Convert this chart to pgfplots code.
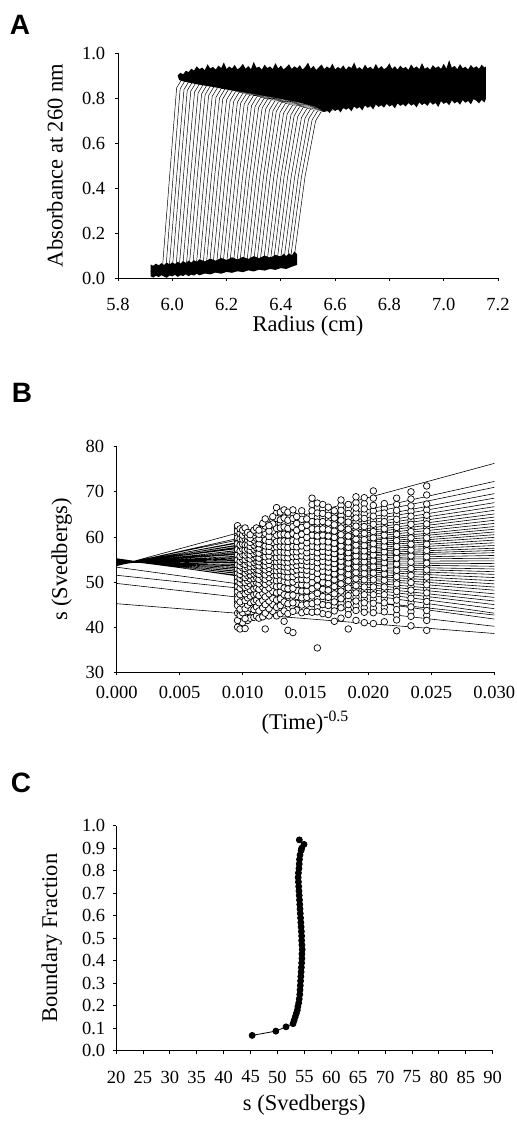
\documentclass[border=0pt]{standalone}
\usepackage{fontspec}
\setmainfont{Liberation Serif}
\newfontfamily\panelfont{Liberation Sans}
\usepackage{pgfplots}
\usepackage{pgfplotstable}
\pgfplotsset{compat=1.18}

% ---------- Panel A: scans (x y, nan rows separate scans)
\pgfplotstableread{
x y
5.92 0.03
5.964 0.050
5.990 0.45
6.016 0.845
6.036 0.885
7.15 0.86
nan nan
5.92 0.03
5.977 0.051
6.003 0.45
6.029 0.841
6.049 0.881
7.15 0.86
nan nan
5.92 0.03
5.989 0.053
6.016 0.45
6.043 0.837
6.063 0.877
7.15 0.86
nan nan
5.92 0.03
6.001 0.054
6.028 0.45
6.055 0.833
6.075 0.873
7.15 0.86
nan nan
5.92 0.03
6.014 0.055
6.041 0.45
6.068 0.830
6.088 0.870
7.15 0.86
nan nan
5.92 0.03
6.026 0.056
6.054 0.45
6.082 0.826
6.102 0.866
7.15 0.86
nan nan
5.92 0.03
6.039 0.058
6.067 0.45
6.095 0.822
6.115 0.862
7.15 0.86
nan nan
5.92 0.03
6.052 0.059
6.080 0.45
6.108 0.818
6.128 0.858
7.15 0.86
nan nan
5.92 0.03
6.063 0.060
6.092 0.45
6.121 0.815
6.141 0.855
7.15 0.86
nan nan
5.92 0.03
6.076 0.062
6.105 0.45
6.134 0.811
6.154 0.851
7.15 0.86
nan nan
5.92 0.03
6.089 0.063
6.118 0.45
6.147 0.807
6.167 0.847
7.15 0.86
nan nan
5.92 0.03
6.101 0.064
6.131 0.45
6.161 0.803
6.181 0.843
7.15 0.86
nan nan
5.92 0.03
6.114 0.065
6.144 0.45
6.174 0.800
6.194 0.840
7.15 0.86
nan nan
5.92 0.03
6.126 0.067
6.156 0.45
6.186 0.796
6.206 0.836
7.15 0.86
nan nan
5.92 0.03
6.138 0.068
6.169 0.45
6.200 0.792
6.220 0.832
7.15 0.86
nan nan
5.92 0.03
6.151 0.069
6.182 0.45
6.213 0.788
6.233 0.828
7.15 0.86
nan nan
5.92 0.03
6.164 0.071
6.195 0.45
6.226 0.785
6.246 0.825
7.15 0.86
nan nan
5.92 0.03
6.176 0.072
6.208 0.45
6.240 0.781
6.260 0.821
7.15 0.86
nan nan
5.92 0.03
6.188 0.073
6.220 0.45
6.252 0.777
6.272 0.817
7.15 0.86
nan nan
5.92 0.03
6.201 0.074
6.233 0.45
6.265 0.773
6.285 0.813
7.15 0.86
nan nan
5.92 0.03
6.213 0.076
6.246 0.45
6.279 0.770
6.299 0.810
7.15 0.86
nan nan
5.92 0.03
6.226 0.077
6.259 0.45
6.292 0.766
6.312 0.806
7.15 0.86
nan nan
5.92 0.03
6.239 0.078
6.272 0.45
6.305 0.762
6.325 0.802
7.15 0.86
nan nan
5.92 0.03
6.250 0.079
6.284 0.45
6.318 0.758
6.338 0.798
7.15 0.86
nan nan
5.92 0.03
6.263 0.081
6.297 0.45
6.331 0.755
6.351 0.795
7.15 0.86
nan nan
5.92 0.03
6.276 0.082
6.310 0.45
6.344 0.751
6.364 0.791
7.15 0.86
nan nan
5.92 0.03
6.288 0.083
6.323 0.45
6.358 0.747
6.378 0.787
7.15 0.86
nan nan
5.92 0.03
6.301 0.085
6.336 0.45
6.371 0.743
6.391 0.783
7.15 0.86
nan nan
5.92 0.03
6.313 0.086
6.348 0.45
6.383 0.740
6.403 0.780
7.15 0.86
nan nan
5.92 0.03
6.325 0.087
6.361 0.45
6.397 0.736
6.417 0.776
7.15 0.86
nan nan
5.92 0.03
6.338 0.088
6.374 0.45
6.410 0.732
6.430 0.772
7.15 0.86
nan nan
5.92 0.03
6.351 0.090
6.387 0.45
6.423 0.728
6.443 0.768
7.15 0.86
nan nan
5.92 0.03
6.363 0.091
6.400 0.45
6.437 0.725
6.457 0.765
7.15 0.86
nan nan
5.92 0.03
6.375 0.092
6.412 0.45
6.449 0.721
6.469 0.761
7.15 0.86
nan nan
5.92 0.03
6.388 0.094
6.425 0.45
6.462 0.717
6.482 0.757
7.15 0.86
nan nan
5.92 0.03
6.400 0.095
6.438 0.45
6.476 0.713
6.496 0.753
7.15 0.86
nan nan
5.92 0.03
6.413 0.096
6.451 0.45
6.489 0.710
6.509 0.750
7.15 0.86
nan nan
5.92 0.03
6.426 0.097
6.464 0.45
6.502 0.706
6.522 0.746
7.15 0.86
nan nan
5.92 0.03
6.437 0.099
6.476 0.45
6.515 0.702
6.535 0.742
7.15 0.86
nan nan
5.92 0.03
6.450 0.100
6.489 0.45
6.528 0.698
6.548 0.738
7.15 0.86
}\scansA

% noisy plateau band (closed polygon)
\pgfplotstableread{
x y
6.02 0.900
6.03 0.912
6.04 0.905
6.05 0.921
6.06 0.915
6.07 0.930
6.08 0.922
6.09 0.941
6.10 0.928
6.11 0.935
6.12 0.924
6.13 0.950
6.14 0.931
6.15 0.938
6.16 0.926
6.17 0.944
6.18 0.933
6.19 0.958
6.20 0.929
6.21 0.940
6.22 0.931
6.23 0.947
6.24 0.927
6.25 0.936
6.26 0.952
6.27 0.930
6.28 0.942
6.29 0.928
6.30 0.961
6.31 0.934
6.32 0.939
6.33 0.926
6.34 0.948
6.35 0.933
6.36 0.940
6.37 0.929
6.38 0.955
6.39 0.931
6.40 0.944
6.41 0.927
6.42 0.937
6.43 0.950
6.44 0.929
6.45 0.941
6.46 0.932
6.47 0.946
6.48 0.926
6.49 0.939
6.50 0.957
6.51 0.930
6.52 0.943
6.53 0.925
6.54 0.936
6.55 0.949
6.56 0.928
6.57 0.940
6.58 0.931
6.59 0.953
6.60 0.927
6.61 0.938
6.62 0.930
6.63 0.945
6.64 0.926
6.65 0.941
6.66 0.933
6.67 0.958
6.68 0.929
6.69 0.937
6.70 0.926
6.71 0.948
6.72 0.931
6.73 0.939
6.74 0.927
6.75 0.951
6.76 0.930
6.77 0.942
6.78 0.928
6.79 0.936
6.80 0.954
6.81 0.929
6.82 0.941
6.83 0.926
6.84 0.944
6.85 0.931
6.86 0.938
6.87 0.925
6.88 0.949
6.89 0.932
6.90 0.940
6.91 0.928
6.92 0.955
6.93 0.930
6.94 0.937
6.95 0.926
6.96 0.946
6.97 0.933
6.98 0.941
6.99 0.929
7.00 0.952
7.01 0.931
7.02 0.968
7.03 0.934
7.04 0.943
7.05 0.928
7.06 0.950
7.07 0.932
7.08 0.939
7.09 0.927
7.10 0.947
7.11 0.933
7.12 0.941
7.13 0.930
7.14 0.948
7.15 0.935
7.155 0.940
7.155 0.795
7.15 0.780
7.14 0.792
7.13 0.776
7.12 0.788
7.11 0.795
7.10 0.772
7.09 0.787
7.08 0.779
7.07 0.791
7.06 0.770
7.05 0.784
7.04 0.776
7.03 0.789
7.02 0.768
7.01 0.781
7.00 0.774
6.99 0.786
6.98 0.760
6.97 0.778
6.96 0.770
6.95 0.782
6.94 0.765
6.93 0.776
6.92 0.769
6.91 0.780
6.90 0.758
6.89 0.773
6.88 0.766
6.87 0.778
6.86 0.762
6.85 0.772
6.84 0.765
6.83 0.776
6.82 0.754
6.81 0.769
6.80 0.762
6.79 0.774
6.78 0.757
6.77 0.768
6.76 0.760
6.75 0.771
6.74 0.749
6.73 0.764
6.72 0.756
6.71 0.767
6.70 0.745
6.69 0.760
6.68 0.752
6.67 0.762
6.66 0.741
6.65 0.755
6.64 0.748
6.63 0.757
6.62 0.736
6.61 0.750
6.60 0.742
6.59 0.752
6.58 0.733
6.57 0.744
6.56 0.738
6.55 0.745
6.54 0.752
6.52 0.764
6.50 0.770
6.48 0.776
6.45 0.785
6.42 0.791
6.39 0.799
6.36 0.805
6.33 0.811
6.30 0.818
6.27 0.824
6.24 0.830
6.21 0.836
6.18 0.842
6.15 0.849
6.12 0.855
6.09 0.861
6.06 0.869
6.04 0.874
6.025 0.880
}\bandA

% noisy baseline band (closed polygon)
\pgfplotstableread{
x y
5.92 0.008
5.93 0.002
5.94 0.010
5.95 0.004
5.96 0.012
5.97 0.006
5.98 0.001
5.99 0.011
6.00 0.007
6.01 0.014
6.02 0.005
6.03 0.012
6.04 0.009
6.05 0.016
6.06 0.008
6.07 0.015
6.08 0.011
6.09 0.019
6.10 0.012
6.12 0.020
6.14 0.016
6.16 0.024
6.18 0.019
6.20 0.027
6.22 0.023
6.24 0.030
6.26 0.026
6.28 0.034
6.30 0.029
6.32 0.037
6.34 0.033
6.36 0.040
6.38 0.036
6.40 0.044
6.42 0.040
6.44 0.050
6.46 0.058
6.46 0.105
6.45 0.118
6.44 0.100
6.43 0.110
6.42 0.097
6.41 0.108
6.40 0.095
6.38 0.103
6.36 0.090
6.34 0.100
6.32 0.088
6.30 0.097
6.28 0.085
6.26 0.094
6.24 0.082
6.22 0.092
6.20 0.080
6.18 0.089
6.16 0.077
6.14 0.086
6.12 0.074
6.10 0.083
6.09 0.072
6.08 0.079
6.07 0.069
6.06 0.077
6.05 0.067
6.04 0.075
6.03 0.064
6.02 0.072
6.01 0.062
6.00 0.070
5.99 0.060
5.98 0.069
5.97 0.058
5.96 0.066
5.95 0.056
5.94 0.064
5.93 0.054
5.92 0.060
}\baseA

% ---------- Panel B: fitted lines (x y, nan rows separate lines)
\pgfplotstableread{
x y
0 53.6
0.03 76.3
nan nan
0 53.7
0.03 72.3
nan nan
0 53.8
0.03 71.0
nan nan
0 53.7
0.03 69.6
nan nan
0 53.9
0.03 68.6
nan nan
0 53.8
0.03 67.6
nan nan
0 54.0
0.03 66.7
nan nan
0 53.9
0.03 65.9
nan nan
0 54.0
0.03 65.1
nan nan
0 54.1
0.03 64.4
nan nan
0 53.9
0.03 63.7
nan nan
0 54.1
0.03 63.0
nan nan
0 54.0
0.03 62.3
nan nan
0 54.2
0.03 61.7
nan nan
0 54.1
0.03 61.1
nan nan
0 54.2
0.03 60.5
nan nan
0 54.3
0.03 59.9
nan nan
0 54.1
0.03 59.3
nan nan
0 54.3
0.03 58.7
nan nan
0 54.2
0.03 58.1
nan nan
0 54.4
0.03 57.5
nan nan
0 54.3
0.03 57.0
nan nan
0 54.4
0.03 56.5
nan nan
0 54.3
0.03 55.9
nan nan
0 54.5
0.03 55.3
nan nan
0 54.4
0.03 54.7
nan nan
0 54.5
0.03 54.1
nan nan
0 54.6
0.03 53.5
nan nan
0 54.4
0.03 52.9
nan nan
0 54.6
0.03 52.3
nan nan
0 54.5
0.03 51.7
nan nan
0 54.7
0.03 51.0
nan nan
0 54.6
0.03 50.3
nan nan
0 54.8
0.03 49.6
nan nan
0 54.7
0.03 48.9
nan nan
0 54.9
0.03 48.2
nan nan
0 54.8
0.03 47.4
nan nan
0 55.0
0.03 46.6
nan nan
0 54.9
0.03 45.8
nan nan
0 55.1
0.03 45.0
nan nan
0 55.0
0.03 44.1
nan nan
0 55.2
0.03 43.1
nan nan
0 51.5
0.03 42.7
nan nan
0 53.3
0.03 41.8
nan nan
0 49.7
0.03 40.2
nan nan
0 45.2
0.03 38.6
}\linesB

% Panel B: observed s values, one row per scan (x, then 18 values)
\pgfplotstableread{
x y1 y2 y3 y4 y5 y6 y7 y8 y9 y10 y11 y12 y13 y14 y15 y16 y17 y18
0.0096 40.0 41.5 44.8 46.3 47.9 49.0 50.2 51.1 52.0 52.9 53.8 54.9 56.0 57.2 58.5 59.8 61.3 62.5
0.0098 39.6 42.6 44.0 45.6 47.2 48.6 49.8 50.8 51.7 52.6 53.6 54.6 55.7 56.9 58.2 59.6 60.8 61.8
0.0100 41.0 43.2 45.1 46.8 48.1 49.3 50.4 51.3 52.3 53.1 54.1 55.0 56.1 57.3 58.4 59.5 60.4 61.5
0.0102 39.7 41.9 44.1 45.9 47.4 48.8 49.9 51.0 52.0 53.0 53.9 55.0 56.0 57.1 58.3 59.6 60.9 62.0
0.0104 41.5 43.5 44.9 46.5 47.9 49.1 50.3 51.4 52.4 53.3 54.4 55.4 56.4 57.3 58.2 59.3 60.1 61.0
0.0106 42.0 44.2 45.5 46.9 48.3 49.6 50.7 51.6 52.5 53.4 54.2 55.1 56.0 57.0 57.9 58.8 59.7 60.5
0.0109 42.2 43.9 45.7 47.2 48.5 49.8 50.8 51.8 52.7 53.5 54.4 55.4 56.3 57.3 58.2 59.3 60.4 61.5
0.0111 42.5 44.5 46.0 47.4 48.8 49.9 51.0 52.0 52.9 53.8 54.7 55.6 56.6 57.6 58.6 59.7 60.9 62.0
0.0113 42.0 43.6 45.4 47.0 48.4 49.6 50.6 51.7 52.6 53.6 54.5 55.3 56.4 57.5 58.5 59.6 60.6 61.5
0.0116 42.3 44.3 45.9 47.5 48.9 50.1 51.1 52.2 53.1 54.1 55.0 56.0 57.1 58.2 59.4 60.5 61.8 63.0
0.0118 39.6 43.1 45.0 46.7 48.2 49.5 50.6 51.6 52.7 53.6 54.6 55.6 56.8 58.0 59.3 60.8 62.4 64.0
0.0121 42.5 44.1 45.8 47.4 48.7 50.0 51.0 52.1 53.0 53.9 54.8 55.8 56.8 57.9 59.0 60.1 61.3 62.5
0.0124 43.5 45.0 46.4 47.9 49.3 50.5 51.6 52.6 53.6 54.6 55.5 56.6 57.7 58.8 60.0 61.3 62.9 64.5
0.0127 42.5 44.4 46.0 47.6 49.0 50.3 51.5 52.5 53.5 54.5 55.5 56.6 57.8 59.0 60.4 61.9 64.1 66.5
0.0130 43.0 44.8 46.3 47.8 49.1 50.4 51.6 52.6 53.6 54.6 55.6 56.7 57.9 59.1 60.5 62.0 63.8 65.5
0.0133 41.3 43.6 45.6 47.2 48.7 50.1 51.3 52.4 53.4 54.4 55.5 56.6 57.8 59.1 60.6 62.2 64.2 66.0
0.0136 39.3 43.0 45.2 47.0 48.5 49.9 51.1 52.3 53.3 54.4 55.4 56.5 57.7 59.0 60.4 61.9 63.7 65.5
0.0140 38.8 43.5 45.4 47.1 48.6 50.0 51.2 52.4 53.5 54.5 55.6 56.7 57.9 59.2 60.7 62.3 64.1 66.0
0.0143 43.8 45.3 46.8 48.2 49.5 50.6 51.7 52.7 53.7 54.7 55.7 56.7 57.8 59.0 60.2 61.5 63.0 64.5
0.0147 43.2 44.9 46.5 48.0 49.4 50.6 51.7 52.8 53.8 54.8 55.8 56.9 58.0 59.3 60.6 62.1 63.9 65.8
0.0151 43.5 45.1 46.6 48.0 49.3 50.5 51.6 52.6 53.6 54.6 55.5 56.5 57.6 58.7 59.9 61.2 62.6 64.0
0.01552 43.3 45.2 46.9 48.5 49.9 51.2 52.4 53.5 54.6 55.7 56.8 57.9 59.1 60.4 61.8 63.4 65.8 68.6
0.01594 35.4 43.4 45.6 47.5 49.1 50.6 51.9 53.1 54.3 55.4 56.5 57.7 58.9 60.2 61.7 63.3 65.3 67.5
0.01637 43.0 45.0 46.8 48.4 49.9 51.2 52.4 53.5 54.6 55.7 56.8 57.9 59.1 60.4 61.8 63.4 65.2 67.2
0.01681 42.8 44.8 46.6 48.2 49.7 51.0 52.2 53.3 54.4 55.5 56.6 57.7 58.9 60.2 61.6 63.1 64.8 66.6
0.01729 41.3 43.6 45.6 47.4 49.0 50.5 51.8 53.0 54.1 55.2 56.3 57.4 58.6 59.9 61.3 62.7 64.2 65.8
0.01782 42.0 44.3 46.3 48.0 49.6 51.0 52.3 53.5 54.6 55.7 56.8 58.0 59.2 60.5 62.0 63.7 65.9 68.2
0.0184 39.6 42.8 45.0 47.0 48.7 50.3 51.7 53.0 54.2 55.4 56.5 57.7 58.9 60.2 61.7 63.3 65.2 67.2
0.01901 41.5 43.7 45.8 47.6 49.2 50.7 52.1 53.4 54.6 55.8 57.0 58.2 59.5 60.9 62.4 64.2 66.4 68.9
0.01967 41.0 43.3 45.4 47.2 48.9 50.5 51.9 53.2 54.5 55.7 56.9 58.1 59.4 60.8 62.3 64.1 66.2 68.7
0.02039 40.8 43.2 45.3 47.2 48.9 50.5 52.0 53.4 54.7 56.0 57.2 58.5 59.8 61.2 62.8 64.6 67.0 70.2
0.02126 41.2 43.4 45.4 47.2 48.9 50.4 51.8 53.1 54.3 55.5 56.7 57.9 59.1 60.4 61.8 63.4 65.3 67.4
0.02224 39.2 41.6 43.9 46.0 47.9 49.6 51.2 52.6 54.0 55.3 56.6 57.9 59.2 60.6 62.1 63.9 65.9 68.6
0.02338 40.3 42.4 44.5 46.4 48.2 49.9 51.5 53.0 54.4 55.8 57.1 58.4 59.8 61.2 62.8 64.6 66.9 70.0
0.02463 39.3 41.5 43.7 45.7 47.6 49.4 51.1 52.7 54.2 55.6 57.0 58.4 59.8 61.3 62.9 64.8 67.3 71.3
}\pointsB

% Panel B: further observed s values, same scans (x, then 16 values)
\pgfplotstableread{
x z1 z2 z3 z4 z5 z6 z7 z8 z9 z10 z11 z12 z13 z14 z15 z16
0.0096 43.1 45.6 47.1 48.5 49.6 50.6 51.6 52.4 53.4 54.3 55.5 56.6 57.8 59.2 60.5 61.9
0.0098 43.3 44.8 46.4 47.9 49.2 50.3 51.2 52.1 53.1 54.1 55.1 56.3 57.5 58.9 60.2 61.3
0.0100 44.1 45.9 47.4 48.7 49.8 50.8 51.8 52.7 53.6 54.5 55.5 56.7 57.8 58.9 59.9 61.0
0.0102 43.0 45.0 46.6 48.1 49.3 50.4 51.5 52.5 53.4 54.4 55.5 56.5 57.7 58.9 60.2 61.4
0.0104 44.2 45.7 47.2 48.5 49.7 50.8 51.9 52.8 53.8 54.9 55.9 56.8 57.7 58.7 59.7 60.5
0.0106 44.8 46.2 47.6 48.9 50.1 51.1 52.0 52.9 53.8 54.6 55.5 56.5 57.4 58.3 59.2 60.1
0.0109 44.8 46.4 47.8 49.1 50.3 51.3 52.2 53.1 53.9 54.9 55.8 56.8 57.7 58.7 59.8 60.9
0.0111 45.2 46.7 48.1 49.3 50.4 51.5 52.4 53.3 54.2 55.1 56.1 57.1 58.1 59.1 60.3 61.4
0.0113 44.5 46.2 47.7 49.0 50.1 51.1 52.1 53.1 54.0 54.9 55.8 56.9 58.0 59.0 60.1 61.0
0.0116 45.1 46.7 48.2 49.5 50.6 51.6 52.6 53.6 54.5 55.5 56.5 57.6 58.8 59.9 61.1 62.4
0.0118 44.0 45.8 47.4 48.8 50.0 51.1 52.1 53.1 54.1 55.1 56.2 57.4 58.6 60.0 61.6 63.2
0.0121 44.9 46.6 48.0 49.3 50.5 51.5 52.5 53.4 54.3 55.3 56.3 57.3 58.4 59.5 60.7 61.9
0.0124 45.7 47.1 48.6 49.9 51.0 52.1 53.1 54.1 55.0 56.0 57.1 58.2 59.4 60.6 62.1 63.7
0.0127 45.2 46.8 48.3 49.6 50.9 52.0 53.0 54.0 55.0 56.0 57.2 58.4 59.7 61.1 63.0 65.3
0.0130 45.5 47.0 48.4 49.7 51.0 52.1 53.1 54.1 55.1 56.1 57.3 58.5 59.8 61.2 62.9 64.6
0.0133 44.6 46.4 47.9 49.4 50.7 51.8 52.9 53.9 54.9 56.0 57.2 58.4 59.8 61.4 63.2 65.1
0.0136 44.1 46.1 47.7 49.2 50.5 51.7 52.8 53.8 54.9 55.9 57.1 58.3 59.7 61.1 62.8 64.6
0.0140 44.4 46.2 47.8 49.3 50.6 51.8 52.9 54.0 55.0 56.1 57.3 58.5 59.9 61.5 63.2 65.0
0.0143 46.0 47.5 48.8 50.0 51.1 52.2 53.2 54.2 55.2 56.2 57.2 58.4 59.6 60.8 62.2 63.7
0.0147 45.7 47.2 48.7 50.0 51.1 52.2 53.3 54.3 55.3 56.3 57.4 58.6 59.9 61.3 63.0 64.8
0.0151 45.8 47.3 48.6 49.9 51.0 52.1 53.1 54.1 55.0 56.0 57.0 58.1 59.3 60.5 61.9 63.3
0.01552 46.0 47.7 49.2 50.5 51.8 52.9 54.0 55.1 56.2 57.3 58.5 59.7 61.1 62.6 64.6 67.2
0.01594 44.5 46.5 48.3 49.8 51.2 52.5 53.7 54.8 55.9 57.1 58.3 59.5 60.9 62.5 64.3 66.4
0.01637 45.9 47.6 49.1 50.5 51.8 52.9 54.0 55.1 56.2 57.3 58.5 59.7 61.1 62.6 64.3 66.2
0.01681 45.7 47.4 48.9 50.3 51.6 52.7 53.8 54.9 56.0 57.1 58.3 59.5 60.9 62.3 63.9 65.7
0.01729 44.6 46.5 48.2 49.7 51.1 52.4 53.5 54.6 55.7 56.8 58.0 59.2 60.6 62.0 63.4 65.0
0.01782 45.3 47.1 48.8 50.3 51.6 52.9 54.0 55.1 56.2 57.4 58.6 59.8 61.2 62.8 64.8 67.0
0.0184 43.9 46.0 47.8 49.5 51.0 52.3 53.6 54.8 55.9 57.1 58.3 59.5 60.9 62.5 64.2 66.2
0.01901 44.7 46.7 48.4 49.9 51.4 52.7 54.0 55.2 56.4 57.6 58.8 60.2 61.6 63.3 65.3 67.6
0.01967 44.3 46.3 48.0 49.7 51.2 52.5 53.8 55.1 56.3 57.5 58.7 60.1 61.5 63.2 65.1 67.4
0.02039 44.2 46.2 48.0 49.7 51.2 52.7 54.0 55.3 56.6 57.8 59.1 60.5 62.0 63.7 65.8 68.6
0.02126 44.4 46.3 48.0 49.6 51.1 52.4 53.7 54.9 56.1 57.3 58.5 59.7 61.1 62.6 64.3 66.3
0.02224 42.7 44.9 46.9 48.7 50.4 51.9 53.3 54.6 55.9 57.2 58.5 59.9 61.3 63.0 64.9 67.2
0.02338 43.4 45.4 47.3 49.0 50.7 52.2 53.7 55.1 56.4 57.7 59.1 60.5 62.0 63.7 65.7 68.4
0.02463 42.6 44.7 46.6 48.5 50.2 51.9 53.4 54.9 56.3 57.7 59.1 60.5 62.1 63.8 66.0 69.3
}\pointsBb

% ---------- Panel C
\pgfplotstableread{
s bf
45.3 0.068
49.7 0.087
51.6 0.106
52.9 0.120
53.1 0.135
53.3 0.150
53.5 0.165
53.7 0.180
53.8 0.196
53.95 0.212
54.05 0.230
54.15 0.250
54.2 0.270
54.25 0.290
54.3 0.310
54.35 0.330
54.4 0.350
54.45 0.370
54.5 0.390
54.55 0.410
54.55 0.430
54.6 0.450
54.55 0.470
54.5 0.490
54.5 0.510
54.45 0.530
54.4 0.550
54.35 0.570
54.3 0.590
54.25 0.610
54.2 0.630
54.15 0.650
54.1 0.670
54.05 0.690
54.0 0.710
53.95 0.730
53.9 0.750
53.85 0.770
53.9 0.790
54.0 0.810
54.05 0.830
54.1 0.850
54.2 0.870
54.4 0.890
54.5 0.900
54.94 0.917
54.07 0.937
}\dataC

\pgfplotsset{
  panel/.style={
    scale only axis,
    axis lines*=left,
    axis line style={line width=0.4pt},
    tick align=outside,
    major tick length=1.5pt,
    tick style={black, line width=0.4pt},
    ticklabel style={font=\fontsize{9.25}{11}\selectfont},
    label style={font=\fontsize{11.25}{13}\selectfont},
    /pgf/number format/assume math mode=true,
    unbounded coords=jump,
  }
}

\begin{document}
\begin{tikzpicture}
\path[use as bounding box] (0pt,0pt) rectangle (258.5pt,562pt);

% ================= A
\begin{axis}[panel,
  at={(59pt,423pt)}, anchor=south west,
  width=190pt, height=112.5pt,
  xmin=5.8, xmax=7.2, ymin=0, ymax=1,
  xtick={5.8,6.0,...,7.21}, ytick={0,0.2,...,1.01},
  xticklabel style={yshift=-5pt, /pgf/number format/fixed, /pgf/number format/fixed zerofill, /pgf/number format/precision=1},
  yticklabel style={xshift=-1.4pt, /pgf/number format/fixed, /pgf/number format/fixed zerofill, /pgf/number format/precision=1},
  xlabel={Radius (cm)},
  ylabel={Absorbance at 260 nm},
  xlabel style={at={(axis description cs:0.5,-0.215)}, anchor=center},
  ylabel style={at={(axis description cs:-0.166,0.5)}, anchor=center},
]
\addplot[draw=none, fill=black] table[x=x,y=y] {\bandA} -- cycle;
\addplot[draw=none, fill=black] table[x=x,y=y] {\baseA} -- cycle;
\addplot[black, line width=0.25pt] table[x=x,y=y] {\scansA};
\end{axis}

% ================= B
\begin{axis}[panel,
  at={(58.35pt,225.85pt)}, anchor=south west,
  width=188.8pt, height=112.8pt,
  xmin=0, xmax=0.03, ymin=30, ymax=80,
  xtick={0,0.005,...,0.0301}, ytick={30,40,...,80},
  scaled x ticks=false,
  xticklabel style={yshift=-2pt, /pgf/number format/fixed, /pgf/number format/fixed zerofill, /pgf/number format/precision=3},
  yticklabel style={xshift=-1.2pt},
  xlabel={(Time)\textsuperscript{-0.5}},
  ylabel={s (Svedbergs)},
  xlabel style={at={(axis description cs:0.5,-0.2216)}, anchor=center},
  ylabel style={at={(axis description cs:-0.1457,0.5)}, anchor=center},
]
\addplot[black, line width=0.3pt] table[x=x,y=y] {\linesB};
\pgfplotsinvokeforeach{1,...,16}{
  \addplot[only marks, mark=*, mark size=1.65pt,
    mark options={fill=white, draw=black, line width=0.35pt}]
    table[x index=0, y index=#1] {\pointsBb};
}
\pgfplotsinvokeforeach{1,...,18}{
  \addplot[only marks, mark=*, mark size=1.65pt,
    mark options={fill=white, draw=black, line width=0.35pt}]
    table[x index=0, y index=#1] {\pointsB};
}
\end{axis}

% ================= C
\begin{axis}[panel,
  at={(58pt,36.65pt)}, anchor=south west,
  width=188.35pt, height=112.5pt,
  xmin=20, xmax=90, ymin=0, ymax=1,
  xtick={20,25,...,90}, ytick={0,0.1,...,1.01},
  xticklabel style={yshift=-5pt},
  yticklabel style={xshift=-0.4pt, /pgf/number format/fixed, /pgf/number format/fixed zerofill, /pgf/number format/precision=1},
  xlabel={s (Svedbergs)},
  ylabel={Boundary Fraction},
  xlabel style={at={(axis description cs:0.5,-0.2413)}, anchor=center},
  ylabel style={at={(axis description cs:-0.1707,0.5)}, anchor=center},
]
\addplot[black, line width=0.4pt, mark=*, mark size=1.5pt, mark options={fill=black}]
  table[x=s,y=bf] {\dataC};
\end{axis}

% panel letters
\node[font=\panelfont\bfseries\fontsize{14}{16}\selectfont] at (10pt,549.5pt) {A};
\node[font=\panelfont\bfseries\fontsize{14}{16}\selectfont] at (11pt,365.5pt) {B};
\node[font=\panelfont\bfseries\fontsize{14}{16}\selectfont] at (10.5pt,170.5pt) {C};
\end{tikzpicture}
\end{document}
